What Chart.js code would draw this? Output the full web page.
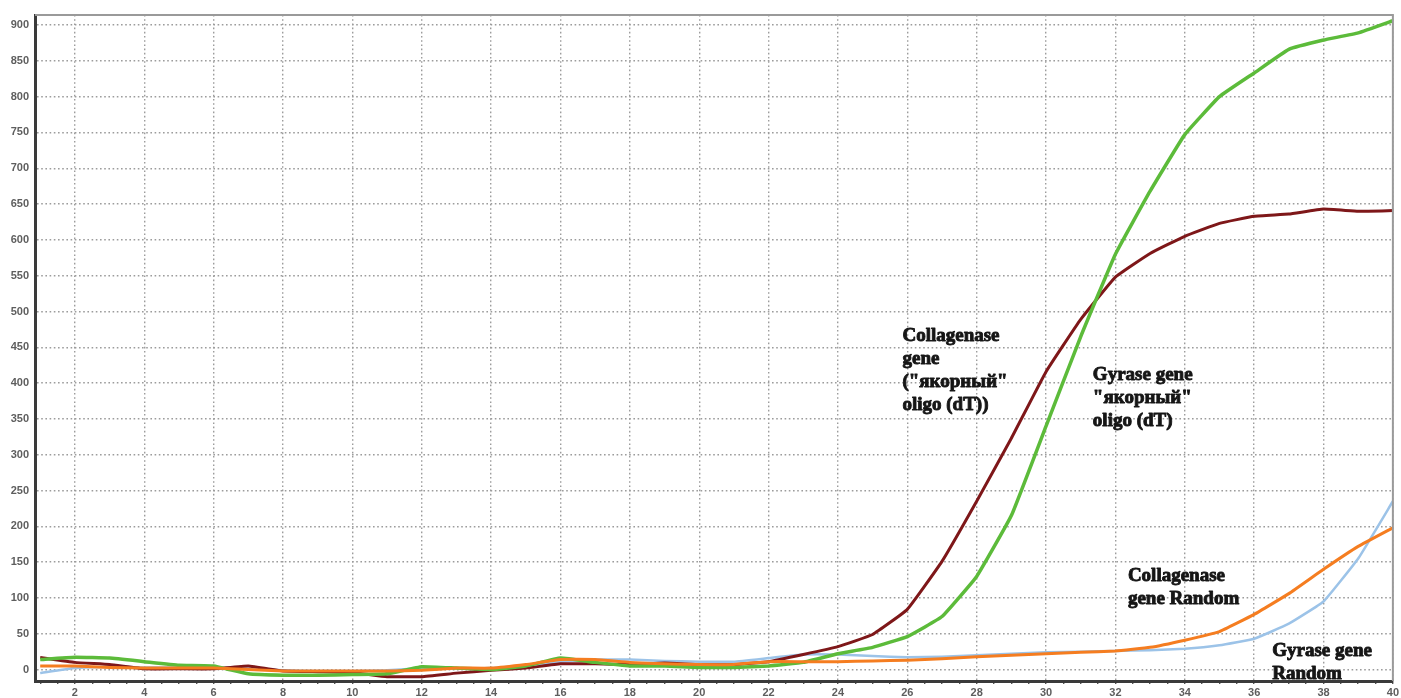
<!DOCTYPE html>
<html>
<head>
<meta charset="utf-8">
<script src="https://cdn.jsdelivr.net/npm/chart.js@4/dist/chart.umd.min.js"></script>
<style>
  html, body { margin: 0; padding: 0; background: #fff; }
  canvas { display: block; }
</style>
</head>
<body>
<canvas id="c" width="1401" height="698"></canvas>
<script>
// PCR cycles 1..40
const cycles = Array.from({ length: 40 }, (_, i) => i + 1);

// Fluorescence per cycle
const collagenaseDT = [17, 10, 7, 1, 1, 1, 5, -2, -3, -4, -10, -10, -5, -1, 2, 8, 8, 7, 9, 7,
  7, 11, 21, 32, 49, 84, 151, 235, 323, 416, 489, 548, 581, 605, 623, 633, 636, 643, 640, 641];
const gyraseDT = [14, 17, 16, 11, 6, 5, -6, -8, -8, -7, -6, 4, 2, 0, 5, 16, 10, 5, 5, 3,
  3, 5, 10, 22, 31, 46, 74, 130, 215, 340, 465, 580, 668, 747, 800, 833, 866, 879, 889, 906];
const collagenaseRandom = [5, 5, 3, 2, 2, 2, 0, -2, -2, -2, -2, -1, 2, 2, 7, 14, 14, 10, 8, 7,
  7, 11, 11, 11, 12, 13, 15, 18, 20, 22, 24, 26, 31, 41, 53, 77, 106, 140, 172, 198];
const gyraseRandom = [-5, 2, 4, 3, 3, 2, 1, -1, -2, -2, -1, 2, 2, 2, 6, 11, 14, 14, 12, 11,
  11, 16, 21, 21, 19, 17, 18, 20, 22, 24, 25, 26, 27, 29, 34, 43, 64, 95, 155, 235];

const yTicks = [0, 50, 100, 150, 200, 250, 300, 350, 400, 450, 500, 550, 600, 650, 700, 750, 800, 850, 900];
// tick marks every half cycle, labels and grid lines on even cycles
const xTicks = Array.from({ length: 79 }, (_, i) => 1 + i * 0.5);

// Curve captions: text lines, cycle and value at the first line
const captions = [
  { lines: ['Collagenase', 'gene', '("якорный"', 'oligo (dT))'], x: 25.86, y: 465 },
  { lines: ['Gyrase gene', '"якорный"', 'oligo (dT)'], x: 31.35, y: 411 },
  { lines: ['Collagenase', 'gene Random'], x: 32.36, y: 131 },
  { lines: ['Gyrase gene', 'Random'], x: 36.52, y: 26 }
];

const frame = {
  id: 'frame',
  afterDatasetsDraw(chart) {
    const { ctx, chartArea: a } = chart;
    ctx.save();
    ctx.strokeStyle = '#9a9a9a';
    ctx.lineWidth = 2;
    ctx.beginPath();
    ctx.moveTo(a.left, a.top);
    ctx.lineTo(a.right, a.top);
    ctx.lineTo(a.right, a.bottom);
    ctx.stroke();
    ctx.restore();
  },
  afterDraw(chart) {
    const { ctx, scales } = chart;
    ctx.save();
    ctx.font = 'bold 19px "Liberation Serif", "Times New Roman", serif';
    ctx.fillStyle = '#161616';
    ctx.strokeStyle = '#161616';
    ctx.lineWidth = 0.9;
    ctx.lineJoin = 'round';
    ctx.textAlign = 'left';
    ctx.textBaseline = 'middle';
    captions.forEach(c => {
      const px = scales.x.getPixelForValue(c.x);
      const py = scales.y.getPixelForValue(c.y);
      c.lines.forEach((t, i) => {
        ctx.fillText(t, px, py + i * 23);
        ctx.strokeText(t, px, py + i * 23);
      });
    });
    ctx.restore();
  }
};

const line = (data, color, width) => ({
  data: cycles.map((c, i) => ({ x: c, y: data[i] })),
  borderColor: color,
  borderWidth: width,
  pointRadius: 0,
  tension: 0.1,
  fill: false
});

const tickFont = { family: '"Liberation Sans", Arial, sans-serif', size: 11, weight: 'bold' };
const isEven = v => Math.abs(v % 2) < 1e-9;

new Chart(document.getElementById('c'), {
  type: 'line',
  data: {
    datasets: [
      line(collagenaseRandom, '#f57d20', 3),
      line(gyraseDT, '#5cbb3a', 3.5),
      line(collagenaseDT, '#7e1719', 3),
      line(gyraseRandom, '#9cc3e8', 2.5)
    ]
  },
  options: {
    responsive: false,
    animation: false,
    plugins: { legend: { display: false }, tooltip: { enabled: false } },
    layout: { padding: { top: 15, right: 4, left: 0, bottom: 0 } },
    scales: {
      x: {
        type: 'linear',
        min: 0.85,
        max: 40,
        afterBuildTicks: s => { s.ticks = xTicks.map(v => ({ value: v })); },
        afterFit: s => { s.height = 17; },
        border: { display: true, color: '#3a3a3a', width: 3, dash: [1.6, 2.6] },
        grid: {
          color: c => (c.tick && isEven(c.tick.value) ? '#9c9c9c' : 'rgba(0,0,0,0)'),
          tickColor: '#555',
          tickLength: 3,
          lineWidth: 1.4
        },
        ticks: {
          autoSkip: false,
          maxRotation: 0,
          padding: 2,
          color: '#5e5e5e',
          font: tickFont,
          callback: v => (isEven(v) ? String(v) : '')
        }
      },
      y: {
        min: -16,
        max: 914,
        afterBuildTicks: s => { s.ticks = yTicks.map(v => ({ value: v })); },
        afterFit: s => { s.width = 35; },
        border: { display: true, color: '#3a3a3a', width: 3, dash: [1.6, 2.6] },
        grid: { color: '#9c9c9c', lineWidth: 1.4, drawTicks: false },
        ticks: { padding: 6, color: '#5e5e5e', font: tickFont }
      }
    }
  },
  plugins: [frame]
});
</script>
</body>
</html>
